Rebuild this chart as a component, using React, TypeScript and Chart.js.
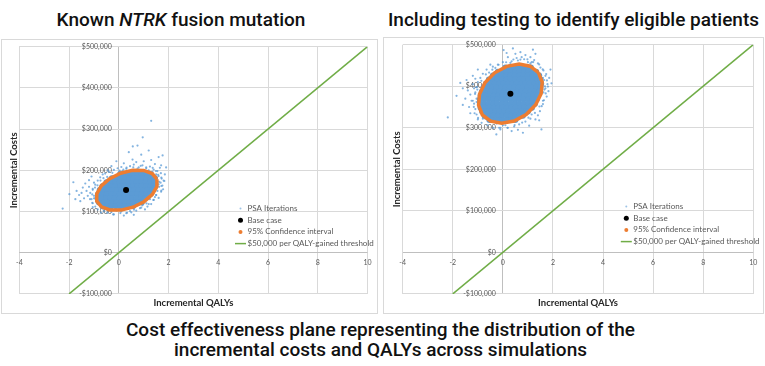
import React, { useEffect, useRef } from 'react';
import { Chart, registerables } from 'chart.js';

Chart.register(...registerables);

// ---------- shared axis data ----------
const xTickValues = [-4, -2, 0, 2, 4, 6, 8, 10];
const xTickLabels = ['-4', '-2', '0', '2', '4', '6', '8', '10'];
const yTickValues = [-100000, 0, 100000, 200000, 300000, 400000, 500000];
const yTickLabels = ['-$100,000', '$0', '$100,000', '$200,000', '$300,000', '$400,000', '$500,000'];
const legendLabels = ['PSA Iterations', 'Base case', '95% Confidence interval', '$50,000 per QALY-gained threshold'];

// threshold line: [QALYs, $ thousands]
const thresholdLine: number[][] = [[-2, -100], [10, 500]];

// ---------- Known NTRK fusion mutation ----------
const knownBaseCase: number[][] = [[0.29, 152]];
const knownEllipse: number[][] = [
  [1.53, 178.4], [1.53, 160.6], [1.35, 141.4], [1.01, 123.8], [0.57, 110.4], [0.09, 103.4],
  [-0.36, 103.7], [-0.70, 111.2], [-0.89, 125.0], [-0.89, 142.8], [-0.71, 162.0], [-0.37, 179.6],
  [0.07, 193.0], [0.55, 200.0], [1.00, 199.7], [1.34, 192.2], [1.53, 178.4],
];
// dense centre of the PSA cloud: [cost ($k), QALY values]
const knownCoreRows: [number, number[]][] = [
  [191, [0.05, 0.22, 0.40, 0.57, 0.75, 0.92, 1.10, 1.27]],
  [181, [-0.28, -0.10, 0.07, 0.25, 0.42, 0.59, 0.77, 0.94, 1.11, 1.29, 1.45]],
  [171, [-0.50, -0.33, -0.15, 0.02, 0.20, 0.37, 0.55, 0.72, 0.90, 1.07, 1.25, 1.42]],
  [161, [-0.66, -0.48, -0.31, -0.13, 0.05, 0.22, 0.40, 0.57, 0.75, 0.92, 1.10, 1.27, 1.45]],
  [152, [-0.77, -0.60, -0.42, -0.25, -0.07, 0.10, 0.28, 0.45, 0.63, 0.80, 0.98, 1.15, 1.33]],
  [142, [-0.84, -0.66, -0.49, -0.31, -0.14, 0.04, 0.21, 0.39, 0.56, 0.74, 0.91, 1.09, 1.26]],
  [132, [-0.86, -0.68, -0.51, -0.33, -0.16, 0.02, 0.19, 0.37, 0.54, 0.72, 0.89, 1.06]],
  [122, [-0.80, -0.62, -0.45, -0.27, -0.10, 0.08, 0.25, 0.43, 0.60, 0.78, 0.92]],
  [113, [-0.66, -0.48, -0.30, -0.12, 0.05, 0.23, 0.40, 0.57]],
];
// PSA iterations just outside the confidence ellipse: [QALYs, $k]
const knownRing: number[][] = [
  [1.71, 182.4], [1.71, 161.9], [1.50, 139.9], [1.11, 119.6], [0.61, 104.2], [0.06, 96.2],
  [-0.46, 96.5], [-0.85, 105.1], [-1.07, 121.0], [-1.07, 141.5], [-0.86, 163.5], [-0.47, 183.8],
  [0.03, 199.2], [0.58, 207.2], [1.10, 206.9], [1.49, 198.3], [1.83, 174.0], [1.71, 150.9],
  [1.39, 127.9], [0.90, 109.2], [0.33, 97.0], [-0.23, 92.9], [-0.72, 97.5], [-1.05, 110.4],
  [-1.16, 129.9], [-1.05, 152.5], [-0.74, 175.0], [-0.26, 193.9], [0.31, 206.4], [0.88, 210.9],
  [1.36, 205.9], [1.69, 193.0], [1.62, 172], [1.58, 189], [0.75, 204], [0.18, 202], [-0.62, 181],
  [-0.96, 158], [-1.0, 132], [-0.6, 101], [0.45, 101], [1.25, 130], [1.6, 166], [1.2, 200],
];
// scattered PSA iterations: [QALYs, $k]
const knownScatter: number[][] = [
  [-0.55, 192], [-0.4, 196], [-0.2, 201], [-0.05, 205], [0.1, 208], [0.3, 204], [0.45, 210], [0.6, 214],
  [0.8, 207], [0.95, 212], [1.1, 205], [1.25, 209], [1.4, 202], [1.55, 198], [1.65, 206], [1.45, 215],
  [0.7, 220], [0.2, 217], [1.0, 222], [1.3, 225], [-0.3, 210], [0.55, 226], [1.6, 232], [0.9, 238],
  [0.4, 244], [0.75, 260], [1.76, 236], [1.7, 212], [1.9, 207], [0.56, 258], [0.96, 280], [1.3, 320],
  [1.2, 248], [-0.1, 222], [1.6, 186], [1.72, 180], [1.68, 170], [1.8, 175], [1.62, 160], [1.75, 163],
  [1.55, 150], [1.7, 148], [1.85, 190], [1.5, 140], [1.6, 133], [1.4, 128], [1.3, 118], [1.15, 112],
  [1.05, 105], [1.78, 154], [0.85, 108], [0.7, 102], [0.5, 98], [0.3, 96], [0.1, 100], [-0.1, 102],
  [-0.3, 99], [-0.5, 105], [0.6, 92], [0.2, 90], [-0.7, 108], [0.95, 115], [-0.2, 93], [-0.95, 112],
  [-1.05, 120], [-1.1, 130], [-1.0, 138], [-1.15, 145], [-1.05, 155], [-0.95, 165], [-1.2, 160],
  [-1.3, 150], [-1.25, 138], [-1.4, 132], [-1.5, 145], [-1.6, 140], [-1.45, 158], [-1.35, 168],
  [-0.85, 175], [-0.75, 183], [-0.65, 190], [-1.7, 150], [-1.99, 142], [-1.83, 171], [-1.55, 125],
  [-2.26, 107], [-1.2, 176], [-0.9, 122], [-1.75, 130], [-1.1, 185], [-0.45, 200], [0.15, 198],
  [1.5, 190], [1.35, 196], [-1.0, 170], [-0.8, 118], [1.2, 118], [1.45, 135],
];

// ---------- Including testing ----------
const testingBaseCase: number[][] = [[0.30, 382]];
const testingEllipse: number[][] = [
  [1.42, 433.0], [1.57, 409.9], [1.53, 382.6], [1.31, 355.2], [0.93, 331.9], [0.45, 316.3],
  [-0.05, 310.7], [-0.49, 315.9], [-0.82, 331.2], [-0.97, 354.3], [-0.93, 381.6], [-0.71, 409.0],
  [-0.33, 432.3], [0.15, 447.9], [0.65, 453.5], [1.09, 448.3], [1.42, 433.0],
];
const testingCoreRows: [number, number[]][] = [
  [445, [0.10, 0.27, 0.45, 0.62, 0.80, 0.97, 1.12]],
  [435, [-0.20, -0.03, 0.15, 0.32, 0.50, 0.67, 0.85, 1.02, 1.20, 1.33]],
  [426, [-0.40, -0.22, -0.05, 0.13, 0.30, 0.48, 0.65, 0.83, 1.00, 1.18, 1.35, 1.45]],
  [416, [-0.56, -0.38, -0.21, -0.03, 0.14, 0.32, 0.49, 0.67, 0.84, 1.02, 1.19, 1.37, 1.50]],
  [406, [-0.68, -0.50, -0.33, -0.15, 0.02, 0.20, 0.37, 0.55, 0.72, 0.90, 1.07, 1.25, 1.42, 1.53]],
  [397, [-0.77, -0.60, -0.42, -0.25, -0.07, 0.10, 0.28, 0.45, 0.63, 0.80, 0.98, 1.15, 1.33, 1.50]],
  [387, [-0.84, -0.66, -0.49, -0.31, -0.14, 0.04, 0.21, 0.39, 0.56, 0.74, 0.91, 1.09, 1.26, 1.44]],
  [377, [-0.89, -0.71, -0.54, -0.36, -0.19, -0.01, 0.16, 0.34, 0.51, 0.69, 0.86, 1.04, 1.21, 1.39]],
  [368, [-0.92, -0.74, -0.57, -0.39, -0.22, -0.04, 0.13, 0.31, 0.48, 0.66, 0.83, 1.01, 1.18, 1.35]],
  [358, [-0.92, -0.74, -0.57, -0.39, -0.22, -0.04, 0.13, 0.31, 0.48, 0.66, 0.83, 1.01, 1.18, 1.28]],
  [348, [-0.89, -0.71, -0.54, -0.36, -0.19, -0.01, 0.16, 0.34, 0.51, 0.69, 0.86, 1.04, 1.16]],
  [339, [-0.83, -0.65, -0.48, -0.30, -0.13, 0.05, 0.22, 0.40, 0.57, 0.75, 0.92, 1.00]],
  [329, [-0.73, -0.55, -0.38, -0.20, -0.03, 0.15, 0.32, 0.50, 0.67, 0.80]],
  [319, [-0.54, -0.36, -0.19, -0.01, 0.16, 0.34, 0.50]],
];
const testingRing: number[][] = [
  [1.59, 440.6], [1.76, 414.1], [1.71, 382.7], [1.46, 351.2], [1.02, 324.4], [0.47, 306.4],
  [-0.10, 300.0], [-0.61, 306.0], [-0.99, 323.6], [-1.16, 350.1], [-1.11, 381.5], [-0.86, 413.0],
  [-0.42, 439.8], [0.13, 457.8], [0.70, 464.2], [1.21, 458.2], [1.73, 429.3], [1.80, 399.1],
  [1.64, 366.3], [1.28, 335.8], [0.77, 312.5], [0.18, 299.8], [-0.38, 299.5], [-0.85, 311.8],
  [-1.13, 334.9], [-1.20, 365.1], [-1.04, 397.9], [-0.68, 428.4], [-0.17, 451.7], [0.42, 464.4],
  [0.98, 464.7], [1.45, 452.4], [1.66, 392], [1.52, 425], [1.1, 455], [0.3, 456], [-0.55, 433],
  [-1.02, 392], [-1.05, 362], [-0.8, 322], [0.1, 306], [1.15, 332], [1.6, 357], [-0.3, 444],
];
const testingScatter: number[][] = [
  [0.03, 487], [0.4, 491], [0.2, 470], [0.5, 478], [0.7, 482], [0.9, 475], [1.1, 470], [1.25, 463],
  [0.6, 462], [0.85, 465], [0.35, 460], [0.0, 458], [-0.2, 452], [1.0, 458], [1.3, 478], [0.75, 470],
  [0.15, 480], [1.4, 455], [-0.4, 447], [1.2, 488], [1.5, 445], [1.62, 438], [1.7, 425], [1.65, 415],
  [1.78, 405], [1.94, 407], [1.7, 395], [1.62, 385], [1.75, 375], [1.6, 365], [1.55, 352], [1.48, 340],
  [1.85, 420], [1.4, 330], [1.82, 388], [1.9, 440], [1.3, 320], [-0.26, 284], [0.8, 288], [1.54, 296],
  [0.2, 300], [0.45, 303], [0.65, 308], [0.0, 306], [-0.25, 310], [-0.5, 315], [0.9, 315], [1.1, 322],
  [0.35, 292], [-0.7, 322], [1.05, 305], [-0.1, 296], [0.6, 295], [-1.0, 320], [-1.05, 332],
  [-1.1, 345], [-1.15, 358], [-1.05, 370], [-1.1, 385], [-1.05, 398], [-1.0, 410], [-0.9, 420],
  [-0.8, 430], [-0.65, 440], [-1.25, 365], [-1.3, 380], [-1.4, 390], [-1.35, 350], [-1.2, 405],
  [-1.5, 370], [-1.6, 395], [-1.45, 415], [-1.85, 377], [-2.2, 325], [-1.2, 425], [-0.85, 335],
  [-1.6, 355], [-1.3, 335], [-1.7, 408], [-1.0, 440], [-0.5, 452], [0.55, 468], [1.15, 458],
  [1.6, 420], [1.68, 400], [1.45, 318], [-0.15, 300], [-1.15, 395], [-1.1, 418],
];

// ---------- helpers ----------
const toPts = (arr: number[][]) => arr.map(([x, y]) => ({ x, y: y * 1000 }));
const rowsToPts = (rows: [number, number[]][]) =>
  rows.flatMap(([y, xs]) => xs.map((x) => ({ x, y: y * 1000 })));

const overlayPlugin = {
  id: 'overlay',
  beforeDatasetsDraw(chart: any) {
    const { ctx, scales } = chart;
    const xs = scales.x;
    const ys = scales.y;
    const x0 = xs.getPixelForValue(0);
    const y0 = ys.getPixelForValue(0);
    ctx.save();
    ctx.font = '7px Lato';
    ctx.fillStyle = '#595959';
    ctx.textAlign = 'right';
    ctx.textBaseline = 'middle';
    yTickValues.forEach((v, i) => ctx.fillText(yTickLabels[i], x0 - 7, ys.getPixelForValue(v)));
    ctx.textAlign = 'center';
    xTickValues.forEach((v, i) => ctx.fillText(xTickLabels[i], xs.getPixelForValue(v), y0 + 10.5));
    ctx.restore();
  },
  afterDatasetsDraw(chart: any) {
    const { ctx, chartArea } = chart;
    const lx = chartArea.right - 127;
    const ly0 = chartArea.top + 161.8;
    const step = 11.7;
    ctx.save();
    ctx.font = '8px Lato';
    ctx.textAlign = 'left';
    ctx.textBaseline = 'middle';
    legendLabels.forEach((label, i) => {
      const ly = ly0 + i * step;
      if (i === 3) {
        ctx.strokeStyle = '#70ad47';
        ctx.lineWidth = 1.5;
        ctx.beginPath();
        ctx.moveTo(lx - 5.5, ly);
        ctx.lineTo(lx + 5.5, ly);
        ctx.stroke();
      } else {
        const r = i === 0 ? 1 : i === 1 ? 2.5 : 2;
        ctx.fillStyle = i === 0 ? '#9dc3e6' : i === 1 ? '#000000' : '#ed7d31';
        ctx.beginPath();
        ctx.arc(lx, ly, r, 0, Math.PI * 2);
        ctx.fill();
      }
      ctx.fillStyle = '#595959';
      ctx.fillText(label, lx + 7, ly);
    });
    ctx.restore();
  },
};

type PanelProps = {
  width: number;
  height: number;
  pad: { left: number; right: number; top: number; bottom: number };
  base: number[][];
  ellipse: number[][];
  core: [number, number[]][];
  ring: number[][];
  scatter: number[][];
};

const gridColor = (c: any) => (c.tick && c.tick.value === 0 ? '#bfbfbf' : '#d9d9d9');

function Panel({ width, height, pad, base, ellipse, core, ring, scatter }: PanelProps) {
  const ref = useRef<HTMLCanvasElement | null>(null);
  useEffect(() => {
    if (!ref.current) return;
    const titleFont = { family: 'Lato', weight: 'bold' as const, size: 9.5 };
    const chart = new Chart(ref.current, {
      type: 'scatter',
      data: {
        datasets: [
          {
            label: legendLabels[1],
            data: toPts(base),
            pointRadius: 3,
            backgroundColor: '#000000',
            borderWidth: 0,
            order: 0,
          },
          {
            label: legendLabels[2],
            data: toPts(ellipse),
            showLine: true,
            borderColor: '#ed7d31',
            borderWidth: 3.5,
            pointRadius: 0,
            tension: 0,
            order: 1,
          },
          {
            label: legendLabels[3],
            data: toPts(thresholdLine),
            showLine: true,
            borderColor: '#70ad47',
            borderWidth: 1.5,
            pointRadius: 0,
            order: 2,
          },
          {
            label: legendLabels[0],
            data: toPts(scatter.concat(ring)),
            pointRadius: 1.1,
            backgroundColor: 'rgba(91,155,213,0.75)',
            borderWidth: 0,
            order: 3,
          },
          {
            label: 'PSA core',
            data: rowsToPts(core),
            pointRadius: 3,
            backgroundColor: '#5b9bd5',
            borderWidth: 0,
            order: 4,
          },
        ],
      },
      options: {
        animation: false,
        responsive: false,
        maintainAspectRatio: false,
        events: [],
        layout: { padding: pad },
        plugins: { legend: { display: false }, tooltip: { enabled: false } },
        scales: {
          x: {
            type: 'linear',
            min: -4,
            max: 10,
            ticks: { stepSize: 2, display: false },
            grid: { color: gridColor, drawTicks: false, lineWidth: 1 },
            border: { display: false },
            title: {
              display: true,
              text: 'Incremental QALYs',
              font: titleFont,
              color: '#262626',
              padding: { top: 3, bottom: 0 },
            },
          },
          y: {
            type: 'linear',
            min: -100000,
            max: 500000,
            ticks: { stepSize: 100000, display: false },
            grid: { color: gridColor, drawTicks: false, lineWidth: 1 },
            border: { display: false },
            title: {
              display: true,
              text: 'Incremental Costs',
              font: titleFont,
              color: '#262626',
              padding: { top: 0, bottom: 0 },
            },
          },
        },
      },
      plugins: [overlayPlugin],
    });
    return () => chart.destroy();
  }, []);
  return <canvas ref={ref} width={width} height={height} style={{ width, height, display: 'block' }} />;
}

export default function App() {
  const titleStyle: React.CSSProperties = {
    position: 'absolute',
    top: 10,
    textAlign: 'center',
    fontFamily: 'Roboto, sans-serif',
    fontWeight: 500,
    fontSize: 19,
    lineHeight: '19px',
    color: '#111111',
    whiteSpace: 'nowrap',
  };
  const boxStyle: React.CSSProperties = {
    position: 'absolute',
    boxSizing: 'border-box',
    border: '1px solid #d9d9d9',
    background: '#ffffff',
  };
  return (
    <div
      style={{
        position: 'fixed',
        left: 0,
        top: 0,
        width: 765,
        height: 366,
        background: '#ffffff',
        overflow: 'hidden',
      }}
    >
      <div style={{ ...titleStyle, left: 0, width: 362 }}>
        Known <i>NTRK</i> fusion mutation
      </div>
      <div style={{ ...titleStyle, left: 383, width: 381 }}>
        Including testing to identify eligible patients
      </div>
      <div style={{ ...boxStyle, left: 1, top: 39, width: 377, height: 275 }}>
        <Panel
          width={375}
          height={273}
          pad={{ left: 6, right: 9.5, top: 6.7, bottom: 4.7 }}
          base={knownBaseCase}
          ellipse={knownEllipse}
          core={knownCoreRows}
          ring={knownRing}
          scatter={knownScatter}
        />
      </div>
      <div style={{ ...boxStyle, left: 383, top: 37, width: 381, height: 277 }}>
        <Panel
          width={379}
          height={275}
          pad={{ left: 7.3, right: 9.7, top: 6.7, bottom: 4.7 }}
          base={testingBaseCase}
          ellipse={testingEllipse}
          core={testingCoreRows}
          ring={testingRing}
          scatter={testingScatter}
        />
      </div>
      <div
        style={{
          position: 'absolute',
          left: 0,
          top: 320,
          width: 761,
          textAlign: 'center',
          fontFamily: 'Roboto, sans-serif',
          fontWeight: 500,
          fontSize: 19,
          lineHeight: '20px',
          color: '#111111',
        }}
      >
        Cost effectiveness plane representing the distribution of the
        <br />
        incremental costs and QALYs across simulations
      </div>
    </div>
  );
}
